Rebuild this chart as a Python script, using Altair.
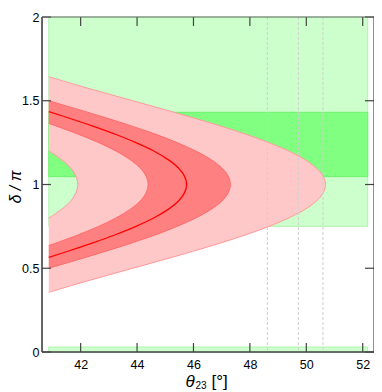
import altair as alt
import pandas as pd

# ---------------- data ----------------
x_ticks = [42, 44, 46, 48, 50, 52]
y_ticks = [0, 0.5, 1, 1.5, 2]
x_domain = [40.63, 52.4]
y_domain = [0, 2]

# green allowed bands
green_theta = [40.87, 52.18]
green_light_lo = [0.75, 0.0]
green_light_hi = [2.0, 0.03]
green_dark_lo = [1.047]
green_dark_hi = [1.431]

# vertical dashed reference lines
vlines = [48.62, 49.72, 50.59]

# outer (light pink) region: theta range per delta
outer_delta = [0.356, 0.40, 0.45, 0.50, 0.55, 0.60, 0.65, 0.70, 0.75, 0.80, 0.81, 0.82,
               0.85, 0.90, 0.95, 1.00, 1.05, 1.10, 1.15, 1.18, 1.19, 1.20, 1.25, 1.30,
               1.35, 1.40, 1.45, 1.50, 1.55, 1.60, 1.644]
outer_theta_max = [40.87, 41.74, 42.78, 43.85, 44.92, 45.96, 46.95, 47.86, 48.68, 49.38, 49.50, 49.62,
                   49.94, 50.35, 50.60, 50.68, 50.60, 50.35, 49.94, 49.62, 49.50, 49.38, 48.68, 47.86,
                   46.95, 45.96, 44.92, 43.85, 42.78, 41.74, 40.87]
outer_theta_min = [40.87, 40.87, 40.87, 40.87, 40.87, 40.87, 40.87, 40.87, 40.87, 40.87, 40.97, 41.06,
                   41.31, 41.64, 41.83, 41.90, 41.83, 41.64, 41.31, 41.06, 40.97, 40.87, 40.87, 40.87,
                   40.87, 40.87, 40.87, 40.87, 40.87, 40.87, 40.87]

# inner (dark red) band
dark_delta = [0.50, 0.55, 0.60, 0.635, 0.65, 0.70, 0.75, 0.80, 0.85, 0.90, 0.95, 1.00,
              1.05, 1.10, 1.15, 1.20, 1.25, 1.30, 1.35, 1.365, 1.40, 1.45, 1.50]
dark_theta_max = [40.87, 41.88, 42.86, 43.52, 43.79, 44.66, 45.42, 46.08, 46.61, 47.00, 47.23, 47.31,
                  47.23, 47.00, 46.61, 46.08, 45.42, 44.66, 43.79, 43.52, 42.86, 41.88, 40.87]
dark_theta_min = [40.87, 40.87, 40.87, 40.87, 41.12, 41.92, 42.64, 43.25, 43.74, 44.10, 44.32, 44.39,
                  44.32, 44.10, 43.74, 43.25, 42.64, 41.92, 41.12, 40.87, 40.87, 40.87, 40.87]

# best-fit curve
line_delta = [0.565, 0.60, 0.65, 0.70, 0.75, 0.80, 0.85, 0.90, 0.95, 1.00,
              1.05, 1.10, 1.15, 1.20, 1.25, 1.30, 1.35, 1.40, 1.435]
line_theta = [40.87, 41.52, 42.41, 43.23, 43.96, 44.59, 45.09, 45.46, 45.68, 45.76,
              45.68, 45.46, 45.09, 44.59, 43.96, 43.23, 42.41, 41.52, 40.87]

# ---------------- tables ----------------
W, H = 332, 335
FONT = "Liberation Sans"

green_light = pd.DataFrame({"theta": [green_theta[0]] * 2, "theta2": [green_theta[1]] * 2,
                            "delta": green_light_lo, "delta2": green_light_hi})
green_dark = pd.DataFrame({"theta": [green_theta[0]], "theta2": [green_theta[1]],
                           "delta": green_dark_lo, "delta2": green_dark_hi})
outer = pd.DataFrame({"delta": outer_delta, "theta": outer_theta_max, "theta2": outer_theta_min})
dark = pd.DataFrame({"delta": dark_delta, "theta": dark_theta_max, "theta2": dark_theta_min})
hole_outer = pd.DataFrame({"delta": outer_delta, "theta": outer_theta_min})
hole_outer = hole_outer[(hole_outer.delta >= 0.8) & (hole_outer.delta <= 1.2)]
hole_dark = pd.DataFrame({"delta": dark_delta, "theta": dark_theta_min})
hole_dark = hole_dark[(hole_dark.delta >= 0.635) & (hole_dark.delta <= 1.365)]
outer_edge = pd.DataFrame({"delta": outer_delta, "theta": outer_theta_max})
dark_edge = pd.DataFrame({"delta": dark_delta, "theta": dark_theta_max})
best = pd.DataFrame({"delta": line_delta, "theta": line_theta})
vl = pd.DataFrame({"theta": vlines})
xt = pd.DataFrame({"theta": x_ticks})
yt = pd.DataFrame({"delta": y_ticks})
one = pd.DataFrame({"a": [0]})

xs = alt.Scale(domain=x_domain, nice=False, zero=False)
ys = alt.Scale(domain=y_domain, nice=False, zero=False)

base_x = alt.X("theta:Q", scale=xs,
               axis=alt.Axis(values=x_ticks, format="~g", ticks=False, domain=False, grid=False,
                             labelFontSize=12.5, labelFont=FONT, labelColor="#000",
                             labelPadding=6, title=None))
base_y = alt.Y("delta:Q", scale=ys,
               axis=alt.Axis(values=y_ticks, format="~g", ticks=False, domain=False, grid=False,
                             labelFontSize=12.5, labelFont=FONT, labelColor="#000",
                             labelPadding=3, title=None))

g1 = alt.Chart(green_light).mark_rect(color="#ccffcc", stroke="#a6eea6", strokeWidth=0.8).encode(
    x=base_x, x2="theta2:Q", y=base_y, y2="delta2:Q")
g2 = alt.Chart(green_dark).mark_rect(color="#80ff80", stroke="#66f066", strokeWidth=0.8).encode(
    x="theta:Q", x2="theta2:Q", y="delta:Q", y2="delta2:Q")

a_outer = alt.Chart(outer).mark_area(fill="#ffc8c8", orient="horizontal",
                                     interpolate="monotone").encode(
    x="theta:Q", x2="theta2:Q", y="delta:Q")
a_dark = alt.Chart(dark).mark_area(fill="#ff8080", orient="horizontal",
                                   interpolate="monotone").encode(
    x="theta:Q", x2="theta2:Q", y="delta:Q")

def edge(df, color, width):
    return alt.Chart(df).mark_line(color=color, strokeWidth=width,
                                   interpolate="catmull-rom").encode(
        x="theta:Q", y="delta:Q", order="delta:Q")

e1 = edge(outer_edge, "#ff9a9a", 1)
e2 = edge(hole_outer, "#ff9a9a", 1)
e3 = edge(dark_edge, "#ff6a6a", 1)
e4 = edge(hole_dark, "#ff6a6a", 1)
bl = edge(best, "#ff0000", 1.3)

dash = alt.Chart(vl).mark_rule(color="#cfcfcf", strokeDash=[3, 2], strokeWidth=1).encode(x="theta:Q")

tick_col = "#444444"
xb = alt.Chart(xt).mark_rule(color=tick_col, strokeWidth=1.2).encode(
    x="theta:Q", y=alt.value(H), y2=alt.value(H - 9))
xtop = alt.Chart(xt).mark_rule(color=tick_col, strokeWidth=1.2).encode(
    x="theta:Q", y=alt.value(0), y2=alt.value(9))
yl = alt.Chart(yt).mark_rule(color=tick_col, strokeWidth=1.2).encode(
    y="delta:Q", x=alt.value(0), x2=alt.value(9))
yr = alt.Chart(yt).mark_rule(color=tick_col, strokeWidth=1.2).encode(
    y="delta:Q", x=alt.value(W), x2=alt.value(W - 9))

# plot frame
frame_col = "#444444"
f_left = alt.Chart(one).mark_rule(color=frame_col, strokeWidth=1.6).encode(
    x=alt.value(0), y=alt.value(0), y2=alt.value(H))
f_bottom = alt.Chart(one).mark_rule(color=frame_col, strokeWidth=1.6).encode(
    x=alt.value(0), x2=alt.value(W), y=alt.value(H))
f_top = alt.Chart(one).mark_rule(color="#666666", strokeWidth=1.2).encode(
    x=alt.value(0), x2=alt.value(W), y=alt.value(0))
f_right = alt.Chart(one).mark_rule(color="#222222", strokeWidth=1).encode(
    x=alt.value(W), y=alt.value(0), y2=alt.value(H))

t1 = alt.Chart(one).mark_text(font=FONT, fontSize=17, fontStyle="italic", align="left",
                              baseline="alphabetic", color="#000").encode(
    x=alt.value(143.5), y=alt.value(370), text=alt.value("θ"))
t2 = alt.Chart(one).mark_text(font=FONT, fontSize=10, align="left",
                              baseline="alphabetic", color="#000").encode(
    x=alt.value(153.5), y=alt.value(372), text=alt.value("23"))
t3 = alt.Chart(one).mark_text(font=FONT, fontSize=17, align="left",
                              baseline="alphabetic", color="#000").encode(
    x=alt.value(169.5), y=alt.value(370), text=alt.value("[°]"))
ty = alt.Chart(one).mark_text(font=FONT, fontSize=16, fontStyle="italic", align="center",
                              baseline="alphabetic", angle=270, color="#000").encode(
    x=alt.value(-21), y=alt.value(170), text=alt.value("δ / π"))

chart = alt.layer(g1, g2, a_outer, a_dark, e1, e2, e3, e4, bl, dash,
                  xb, xtop, yl, yr, f_left, f_bottom, f_top, f_right,
                  t1, t2, t3, ty).properties(
    width=W, height=H,
    autosize=alt.AutoSizeParams(type="none"),
    padding={"left": 34, "top": 9, "right": 0, "bottom": 40},
).configure_view(stroke=None).configure(background="white")

chart.save("out.html", embed_options={"renderer": "svg", "actions": False})
